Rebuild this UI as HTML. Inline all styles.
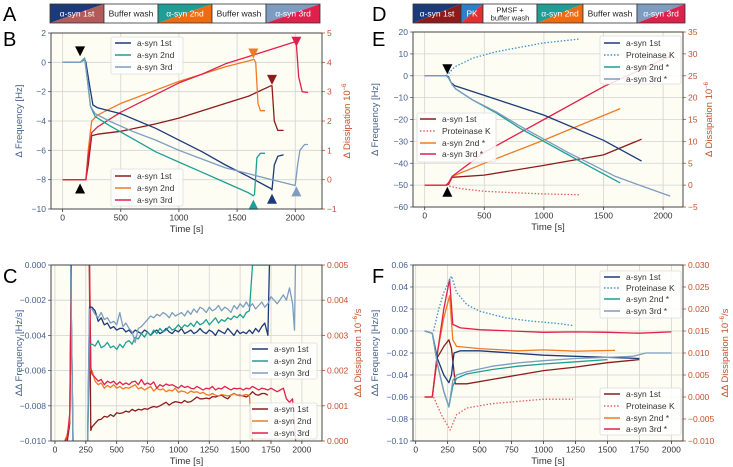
<!DOCTYPE html>
<html><head><meta charset="utf-8">
<style>
body{margin:0;background:#fff;width:733px;height:467px;overflow:hidden;font-family:"Liberation Sans",sans-serif}
svg{display:block}
</style></head>
<body>
<svg id="fig" width="733" height="467" xmlns="http://www.w3.org/2000/svg" font-family="Liberation Sans, DejaVu Sans, sans-serif"></svg>
<script>
// ---------- Panel B data ----------
const bF1t=[0,150,190,200,230,260,300,500,800,1000,1200,1400,1600,1790,1800,1820,1850,1900];
const bF1v=[0,0,0.2,0,-1.5,-2.9,-3.1,-3.5,-4.5,-5.3,-6.1,-7,-7.8,-8.6,-8.7,-7,-6.4,-6.3];
const bF2t=[0,150,190,210,240,280,400,600,800,1000,1200,1400,1600,1640,1650,1670,1700,1740];
const bF2v=[0,0,0.2,-1,-3,-3.7,-4.3,-5.2,-6.1,-6.8,-7.5,-8.2,-8.9,-9.1,-9,-6.5,-6.2,-6.2];
const bF3t=[0,150,190,210,240,280,400,600,800,1000,1200,1400,1600,1800,2000,2020,2040,2080,2110];
const bF3v=[0,0,0.3,-1,-3,-3.5,-4,-4.7,-5.3,-6,-6.6,-7.2,-7.6,-8,-8.4,-7,-6,-5.6,-5.6];
const bD1t=[0,200,220,250,300,500,800,1000,1200,1400,1600,1790,1800,1820,1850,1900];
const bD1v=[0,0,0.5,1.5,1.55,1.65,1.9,2.1,2.35,2.6,2.85,3.2,3.2,2,1.68,1.68];
const bD2t=[0,200,220,250,300,500,800,1000,1200,1400,1600,1645,1660,1680,1700,1740];
const bD2v=[0,0,1,2,2.2,2.6,3.05,3.35,3.6,3.85,4.05,4.1,4,2.6,2.35,2.35];
const bD3t=[0,200,220,250,300,500,800,1000,1200,1400,1600,1800,2000,2010,2030,2060,2110];
const bD3v=[0,0,0.8,1.6,1.8,2.3,2.9,3.3,3.6,3.95,4.2,4.45,4.7,4.6,3.5,3,2.97];
// ---------- Panel E data ----------
const eF1t=[0,180,200,220,250,500,1000,1500,1820];
const eF1v=[0,0,-0.5,-3,-4.5,-9,-18,-29.5,-39];
const ePKt=[180,200,250,400,600,800,1000,1300];
const ePKv=[0,1,4,8,11,13,15,16.8];
const eF2t=[0,180,200,230,260,400,600,800,1000,1200,1400,1640];
const eF2v=[0,0,-1,-4,-6,-11,-17,-24,-30,-36,-42,-49];
const eF3t=[0,180,200,230,260,400,600,800,1000,1200,1400,1600,1800,2060];
const eF3v=[0,0,-1,-4,-6,-11,-16.5,-23,-29,-35,-40.5,-46,-50,-55];
const eD1t=[0,180,200,230,500,1000,1500,1820];
const eD1v=[0,0,0.2,1.8,2.3,4.5,6.9,10.5];
const eDPKt=[180,200,300,500,800,1000,1300];
const eDPKv=[0,-0.2,-0.8,-1.4,-1.8,-2,-2.2];
const eD2t=[0,180,200,230,500,1000,1640];
const eD2v=[0,0,0.5,2,5,10.3,17.5];
const eD3t=[0,180,200,230,500,1000,1500,2060];
const eD3v=[0,0,0.5,2,7.5,15,22.5,29.5];
// ---------- Panel C data ----------
const cT=[300,325,350,375,400,425,450,475,500,525,550,575,600,625,650,675,700,725,750,775,800,825,850,875,900,925,950,975,1000,1025,1050,1075,1100,1125,1150,1175,1200,1225,1250,1275,1300,1325,1350,1375,1400,1425,1450,1475,1500,1525,1550,1575,1600,1625,1650,1675,1700,1725];
const cF1v=[-0.0024,-0.0026,-0.0032,-0.003,-0.0034,-0.0033,-0.0036,-0.0035,-0.0037,-0.0036,-0.0036,-0.0038,-0.0037,-0.0039,-0.0037,-0.0038,-0.0039,-0.0037,-0.0038,-0.0040,-0.0038,-0.0037,-0.0039,-0.0038,-0.0036,-0.0038,-0.0039,-0.0037,-0.0038,-0.0036,-0.0039,-0.0038,-0.0037,-0.0039,-0.0038,-0.0036,-0.0038,-0.0039,-0.0037,-0.0038,-0.0040,-0.0037,-0.0038,-0.0039,-0.0036,-0.0038,-0.0040,-0.0037,-0.0039,-0.0038,-0.0039,-0.0037,-0.0039,-0.0036,-0.0038,-0.0035,-0.0033,-0.0040];
const cF2v=[-0.0045,-0.0046,-0.0043,-0.0047,-0.0046,-0.0044,-0.0047,-0.0046,-0.0048,-0.0045,-0.0047,-0.0044,-0.0043,-0.0045,-0.0041,-0.0042,-0.0039,-0.0041,-0.0038,-0.0040,-0.0037,-0.0039,-0.0036,-0.0038,-0.0037,-0.0035,-0.0037,-0.0036,-0.0034,-0.0036,-0.0034,-0.0035,-0.0033,-0.0035,-0.0032,-0.0034,-0.0033,-0.0031,-0.0034,-0.0032,-0.0030,-0.0033,-0.0031,-0.0032,-0.0030,-0.0031,-0.0029,-0.0030,-0.0028,-0.0030,-0.0027,-0.0026,0,0,0,0,0,0];
const cF3v=[-0.0025,-0.0028,-0.003,-0.0027,-0.0031,-0.0030,-0.0033,-0.0032,-0.0034,-0.0027,-0.0035,-0.0033,-0.0036,-0.0038,-0.0044,-0.0036,-0.0035,-0.0033,-0.0031,-0.0029,-0.0030,-0.0028,-0.0029,-0.0027,-0.0028,-0.0030,-0.0027,-0.0029,-0.0028,-0.0027,-0.0029,-0.0026,-0.0028,-0.0025,-0.0027,-0.0024,-0.0025,-0.0027,-0.0024,-0.0026,-0.0025,-0.0023,-0.0026,-0.0024,-0.0025,-0.0027,-0.0023,-0.0025,-0.0022,-0.0024,-0.0021,-0.0024,-0.0022,-0.0025,-0.0023,-0.0021,-0.0024,-0.0022];
const cD1v=[0.0004,0.0005,0.0006,0.00062,0.0007,0.00068,0.00075,0.0007,0.0008,0.00078,0.0008,0.00085,0.00082,0.0009,0.00085,0.0009,0.00088,0.00092,0.0009,0.00095,0.00098,0.00096,0.001,0.00105,0.0011,0.00102,0.00108,0.00112,0.0011,0.00108,0.00115,0.0011,0.00112,0.00118,0.00125,0.0012,0.0012,0.00122,0.0012,0.00126,0.00125,0.00128,0.0013,0.00124,0.0012,0.0013,0.00135,0.0013,0.0013,0.00128,0.00125,0.0013,0.0014,0.00132,0.0013,0.00135,0.00135,0.0013];
const cD2v=[0.002,0.0017,0.0016,0.00165,0.0015,0.00158,0.00152,0.0016,0.0015,0.00155,0.00148,0.00152,0.0015,0.00155,0.0016,0.00148,0.00152,0.00145,0.0015,0.00155,0.00142,0.0015,0.00145,0.00148,0.0014,0.00145,0.00142,0.0015,0.00138,0.00142,0.0014,0.00135,0.00142,0.00138,0.0014,0.00135,0.00138,0.00132,0.0013,0.00135,0.0013,0.00128,0.00132,0.0013,0.00128,0.0013,0.00135,0.0013,0.00128,0.0013,0.00132,0.0013,0,0,0,0,0,0];
const cD3v=[0.0019,0.0018,0.0017,0.00175,0.0016,0.0017,0.00165,0.0017,0.0016,0.00168,0.0016,0.00165,0.0016,0.00168,0.0017,0.0016,0.00175,0.0016,0.00165,0.0016,0.00168,0.0015,0.0016,0.00155,0.00162,0.00158,0.0016,0.00155,0.0015,0.00158,0.00152,0.00155,0.0015,0.00148,0.00155,0.0015,0.00145,0.0015,0.00148,0.00155,0.00145,0.0015,0.00148,0.00155,0.0015,0.00145,0.0015,0.00148,0.0015,0.00145,0.0015,0.00148,0.00155,0.0015,0.00145,0.0015,0.00148,0.00145];
// ---------- Panel F data ----------
const fF1t=[70,130,170,220,260,280,300,350,500,750,1000,1250,1500,1750];
const fF1v=[0,-0.002,-0.025,-0.04,-0.047,-0.04,-0.02,-0.018,-0.018,-0.02,-0.022,-0.023,-0.024,-0.025];
const fPKt=[140,180,220,280,320,400,500,700,900,1100,1230];
const fPKv=[0,0.02,0.035,0.05,0.035,0.024,0.018,0.012,0.009,0.007,0.005];
const fF2t=[70,130,170,220,260,290,320,400,600,800,1000,1250,1500];
const fF2v=[0,-0.002,-0.03,-0.055,-0.069,-0.05,-0.043,-0.039,-0.035,-0.032,-0.03,-0.028,-0.026];
const fF3t=[70,130,170,220,260,290,320,400,600,800,1000,1250,1500,1700,1800,2000];
const fF3v=[0,-0.002,-0.03,-0.055,-0.069,-0.045,-0.04,-0.037,-0.032,-0.029,-0.027,-0.025,-0.024,-0.023,-0.02,-0.02];
const fD1t=[70,130,170,220,260,280,310,400,600,800,1000,1250,1500,1750];
const fD1v=[0,0,0.009,0.0115,0.013,0.011,0.003,0.003,0.004,0.005,0.006,0.0068,0.0078,0.0085];
const fDPKt=[140,200,270,320,400,600,800,1000,1230];
const fDPKv=[0,-0.004,-0.0075,-0.004,-0.0025,-0.0015,-0.001,-0.0005,-0.0005];
const fD2t=[70,130,170,220,265,290,320,500,800,1000,1250,1560];
const fD2v=[0,0,0.01,0.018,0.023,0.013,0.0115,0.011,0.0105,0.0107,0.0104,0.0106];
const fD3t=[70,130,170,220,265,290,350,500,750,1000,1250,1500,1750,2000];
const fD3v=[0,0,0.01,0.02,0.0268,0.0165,0.0157,0.0153,0.015,0.0147,0.0148,0.0147,0.0145,0.0148];
// tick labels
const bXT=[0,500,1000,1500,2000], bYL=[-10,-8,-6,-4,-2,0,2], bYR=[-1,0,1,2,3,4,5];
const eXT=[0,500,1000,1500,2000], eYL=[-60,-50,-40,-30,-20,-10,0,10,20], eYR=[-5,0,5,10,15,20,25,30,35];
const cXT=[0,250,500,750,1000,1250,1500,1750,2000], cYL=[-0.010,-0.008,-0.006,-0.004,-0.002,0.000], cYR=[0,0.001,0.002,0.003,0.004,0.005];
const fXT=[0,250,500,750,1000,1250,1500,1750,2000], fYL=[-0.10,-0.08,-0.06,-0.04,-0.02,0,0.02,0.04,0.06], fYR=[-0.010,-0.005,0,0.005,0.010,0.015,0.020,0.025,0.030];

const NS="http://www.w3.org/2000/svg";
const svg=document.getElementById('fig');
const C={n1:'#1c3a78',t2:'#1f9e96',g3:'#7c9cc0',r1:'#8e1b1b',o2:'#f07a22',c3:'#e0204c',pkb:'#3d8fd0',pkr:'#e26060',L:'#46608f',R:'#c4502a'};
function mk(tag,attrs,parent){const e=document.createElementNS(NS,tag);for(const k in attrs)e.setAttribute(k,attrs[k]);(parent||svg).appendChild(e);return e;}
function fmtMinus(s){return String(s).replace('-','\u2212');}

function panel(cfg){
  const g=mk('g',{});
  
  
  const {x0,x1,y0,y1}=cfg.box;
  const sx=t=>x0+(t-cfg.xd[0])/(cfg.xd[1]-cfg.xd[0])*(x1-x0);
  const syL=v=>y1-(v-cfg.yl[0])/(cfg.yl[1]-cfg.yl[0])*(y1-y0);
  const syR=v=>y1-(v-cfg.yr[0])/(cfg.yr[1]-cfg.yr[0])*(y1-y0);
  const bg=mk('rect',{x:x0,y:y0,width:x1-x0,height:y1-y0,fill:'#fdfdf4'},g);
  
  
  const clipId='clip'+cfg.name;
  const cp=mk('clipPath',{id:clipId},g);mk('rect',{x:x0,y:y0,width:x1-x0,height:y1-y0},cp);
  cfg.xt.forEach(t=>{const X=sx(t);
    mk('line',{x1:X,x2:X,y1:y0,y2:y1,stroke:'#d4d4d0','stroke-width':0.8},g);
    mk('line',{x1:X,x2:X,y1:y1,y2:y1+3,stroke:'#333','stroke-width':0.8},g);
    const tx=mk('text',{x:X,y:y1+11.5,'font-size':8.5,'text-anchor':'middle',fill:'#333'},g);tx.textContent=t;
    });
  cfg.ylt.forEach(v=>{const Y=syL(v);
    mk('line',{x1:x0,x2:x1,y1:Y,y2:Y,stroke:'#d4d4d0','stroke-width':0.8},g);
    mk('line',{x1:x0-3,x2:x0,y1:Y,y2:Y,stroke:C.L,'stroke-width':0.8},g);
    const tx=mk('text',{x:x0-5,y:Y+3,'font-size':8.5,'text-anchor':'end',fill:C.L},g);tx.textContent=fmtMinus(cfg.fl(v));
    });
  cfg.yrt.forEach(v=>{const Y=syR(v);
    mk('line',{x1:x1,x2:x1+3,y1:Y,y2:Y,stroke:C.R,'stroke-width':0.8},g);
    const tx=mk('text',{x:x1+5,y:Y+3,'font-size':8.5,'text-anchor':'start',fill:C.R},g);tx.textContent=fmtMinus(cfg.fr(v));
    });
  const lg=mk('g',{'clip-path':`url(#${clipId})`},g);
  cfg.series.forEach(s=>{
    const d=s.t.map((t,i)=>(i?'L':'M')+sx(t).toFixed(1)+','+(s.ax==='L'?syL(s.v[i]):syR(s.v[i])).toFixed(1)).join('');
    const p=mk('path',{d,fill:'none',stroke:s.c,'stroke-width':1.3,'stroke-linejoin':'round'},lg);
    if(s.dash)p.setAttribute('stroke-dasharray','1.5,1.8');
    
    
  });
  (cfg.markers||[]).forEach(m=>{const X=sx(m.t),Y=syL(m.v);const h=5;
    const pts=m.down?`${X-5},${Y-h} ${X+5},${Y-h} ${X},${Y+h}`:`${X-5},${Y+h} ${X+5},${Y+h} ${X},${Y-h}`;
    const p=mk('polygon',{points:pts,fill:m.c},g);
    
    });
  mk('rect',{x:x0,y:y0,width:x1-x0,height:y1-y0,fill:'none',stroke:'#333','stroke-width':0.9},g);
  const xl=mk('text',{x:(x0+x1)/2,y:y1+23,'font-size':9.5,'text-anchor':'middle',fill:'#333'},g);xl.textContent='Time [s]';
  
  const yl=mk('text',{x:0,y:0,'font-size':9.5,'text-anchor':'middle',fill:C.L,transform:`translate(${cfg.ylx},${(y0+y1)/2}) rotate(-90)`},g);yl.textContent=cfg.ylab;
  
  const yr=mk('text',{x:0,y:0,'font-size':9.5,'text-anchor':'middle',fill:C.R,transform:`translate(${cfg.yrx},${(y0+y1)/2}) rotate(-90)`},g);yr.innerHTML=cfg.yrab;
  
  cfg.legends.forEach(L=>{
    const lgg=mk('g',{},g);
    
    
    mk('rect',{x:L.x,y:L.y,width:L.w,height:L.h,rx:2,fill:'#fff','fill-opacity':0.85,stroke:'#ddd','stroke-width':0.8},lgg);
    L.items.forEach((it,i)=>{const Y=L.ey[i];
      const ln=mk('line',{x1:L.lx,x2:L.lx+16,y1:Y,y2:Y,stroke:it.c,'stroke-width':1.5},lgg);
      if(it.dash)ln.setAttribute('stroke-dasharray','1.5,1.8');
      const tx=mk('text',{x:L.lx+22,y:Y+3,'font-size':8.5,fill:'#333'},lgg);tx.textContent=it.l;
      });
  });
}
const f3=v=>v.toFixed(3), f2=v=>v.toFixed(2), f0=v=>String(v);

panel({name:'panel-b',box:{x0:51,x1:322,y0:33,y1:209},xd:[-100,2230],yl:[-10,2],yr:[-1,5],
 xt:bXT,ylt:bYL,yrt:bYR,fl:f0,fr:f0,ylx:22,yrx:350,ylab:'Δ Frequency [Hz]',yrab:'Δ Dissipation 10<tspan dy="-4" font-size="6">−6</tspan>',
 series:[{id:'diss-1st',t:bD1t,v:bD1v,ax:'R',c:C.r1},{id:'diss-2nd',t:bD2t,v:bD2v,ax:'R',c:C.o2},{id:'diss-3rd',t:bD3t,v:bD3v,ax:'R',c:C.c3},
  {id:'freq-1st',t:bF1t,v:bF1v,ax:'L',c:C.n1},{id:'freq-2nd',t:bF2t,v:bF2v,ax:'L',c:C.t2},{id:'freq-3rd',t:bF3t,v:bF3v,ax:'L',c:C.g3}],
 markers:[{t:150,v:0.75,down:1,c:'#000'},{t:150,v:-8.6,c:'#000'},{t:1640,v:0.6,down:1,c:C.o2},{t:1800,v:-1.2,down:1,c:C.r1},{t:2010,v:1.4,down:1,c:C.c3},
  {t:1640,v:-9.7,c:C.t2},{t:1800,v:-9.3,c:C.n1},{t:2010,v:-8.8,c:C.g3}],
 legends:[{x:111,y:37,w:72,h:37,lx:115,ey:[43,55,67],items:[{l:'a-syn 1st',c:C.n1},{l:'a-syn 2nd',c:C.t2},{l:'a-syn 3rd',c:C.g3}]},
  {x:111,y:169,w:72,h:37,lx:115,ey:[176,188,200],items:[{l:'a-syn 1st',c:C.r1},{l:'a-syn 2nd',c:C.o2},{l:'a-syn 3rd',c:C.c3}]}]});

panel({name:'panel-e',box:{x0:413,x1:683,y0:32,y1:207},xd:[-98,2167],yl:[-60,20],yr:[-5,35],
 xt:eXT,ylt:eYL,yrt:eYR,fl:f0,fr:f0,ylx:378,yrx:712,ylab:'Δ Frequency [Hz]',yrab:'Δ Dissipation 10<tspan dy="-4" font-size="6">−6</tspan>',
 series:[{id:'diss-1st',t:eD1t,v:eD1v,ax:'R',c:C.r1},{id:'diss-pk',t:eDPKt,v:eDPKv,ax:'R',c:C.pkr,dash:1},{id:'diss-2nd',t:eD2t,v:eD2v,ax:'R',c:C.o2},{id:'diss-3rd',t:eD3t,v:eD3v,ax:'R',c:C.c3},
  {id:'freq-1st',t:eF1t,v:eF1v,ax:'L',c:C.n1},{id:'freq-pk',t:ePKt,v:ePKv,ax:'L',c:C.pkb,dash:1},{id:'freq-2nd',t:eF2t,v:eF2v,ax:'L',c:C.t2},{id:'freq-3rd',t:eF3t,v:eF3v,ax:'L',c:C.g3}],
 markers:[{t:190,v:3,down:1,c:'#000'},{t:190,v:-53,c:'#000'}],
 legends:[{x:600,y:36,w:81,h:48,lx:604,ey:[43,55,67,79],items:[{l:'a-syn 1st',c:C.n1},{l:'Proteinase K',c:C.pkb,dash:1},{l:'a-syn 2nd *',c:C.t2},{l:'a-syn 3rd *',c:C.g3}]},
  {x:417,y:113,w:79,h:49,lx:420,ey:[119,131,143,154],items:[{l:'a-syn 1st',c:C.r1},{l:'Proteinase K',c:C.pkr,dash:1},{l:'a-syn 2nd *',c:C.o2},{l:'a-syn 3rd *',c:C.c3}]}]});

const cTF=[100,125,150,200,260,280].concat(cT), cTD=[80,100,120,140,270,290].concat(cT);
panel({name:'panel-c',box:{x0:51,x1:322,y0:265,y1:441},xd:[-32,2163],yl:[-0.010,0],yr:[0,0.005],
 xt:cXT,ylt:cYL,yrt:cYR,fl:f3,fr:f3,ylx:22,yrx:361,ylab:'ΔΔ Frequency [Hz/s]',yrab:'ΔΔ Dissipation 10<tspan dy="-4" font-size="6">−6</tspan><tspan dy="4">/s</tspan>',
 series:[{id:'diss-1st',t:cTD,v:[0,0,0.0005,0.008,0.008,0.0003].concat(cD1v),ax:'R',c:C.r1},
  {id:'diss-2nd',t:cTD.concat([1750]),v:[0,0.0002,0.0006,0.008,0.008,0.002].concat(cD2v).concat([0]),ax:'R',c:C.o2},
  {id:'diss-3rd',t:cTD.concat([1750,1800,1850,1875,1900,1925,1950]),v:[0,0.0001,0.0008,0.008,0.008,0.0021].concat(cD3v).concat([0.0015,0.0014,0.0015,0.0012,0.0011,0.0012,0]),ax:'R',c:C.c3},
  {id:'freq-1st',t:cTF.concat([1740]),v:[0.001,0.001,-0.012,-0.012,-0.012,-0.0024].concat(cF1v).concat([0.001]),ax:'L',c:C.n1},
  {id:'freq-2nd',t:cTF,v:[0.001,0.001,-0.012,-0.012,-0.012,-0.0045].concat(cF2v),ax:'L',c:C.t2},
  {id:'freq-3rd',t:cTF.concat([1750,1800,1850,1875,1900,1925,1940,1950]),v:[0.001,0.001,-0.012,-0.012,-0.012,-0.0025].concat(cF3v).concat([-0.0018,-0.0022,-0.0017,-0.002,-0.0013,-0.0022,-0.0037,0.001]),ax:'L',c:C.g3}],
 legends:[{x:250,y:343,w:67,h:36,lx:252,ey:[349,361,373],items:[{l:'a-syn 1st',c:C.n1},{l:'a-syn 2nd',c:C.t2},{l:'a-syn 3rd',c:C.g3}]},
  {x:250,y:403,w:67,h:36,lx:252,ey:[409,421,433],items:[{l:'a-syn 1st',c:C.r1},{l:'a-syn 2nd',c:C.o2},{l:'a-syn 3rd',c:C.c3}]}]});

panel({name:'panel-f',box:{x0:413,x1:683,y0:265,y1:441},xd:[-21,2091],yl:[-0.10,0.06],yr:[-0.010,0.030],
 xt:fXT,ylt:fYL,yrt:fYR,fl:f2,fr:f3,ylx:378,yrx:728,ylab:'ΔΔ Frequency [Hz/s]',yrab:'ΔΔ Dissipation 10<tspan dy="-4" font-size="6">−6</tspan><tspan dy="4">/s</tspan>',
 series:[{id:'diss-1st',t:fD1t,v:fD1v,ax:'R',c:C.r1},{id:'diss-pk',t:fDPKt,v:fDPKv,ax:'R',c:C.pkr,dash:1},{id:'diss-2nd',t:fD2t,v:fD2v,ax:'R',c:C.o2},{id:'diss-3rd',t:fD3t,v:fD3v,ax:'R',c:C.c3},
  {id:'freq-1st',t:fF1t,v:fF1v,ax:'L',c:C.n1},{id:'freq-pk',t:fPKt,v:fPKv,ax:'L',c:C.pkb,dash:1},{id:'freq-2nd',t:fF2t,v:fF2v,ax:'L',c:C.t2},{id:'freq-3rd',t:fF3t,v:fF3v,ax:'L',c:C.g3}],
 legends:[{x:600,y:271,w:81,h:47,lx:604,ey:[277,288,299,311],items:[{l:'a-syn 1st',c:C.n1},{l:'Proteinase K',c:C.pkb,dash:1},{l:'a-syn 2nd *',c:C.t2},{l:'a-syn 3rd *',c:C.g3}]},
  {x:600,y:388,w:81,h:47,lx:604,ey:[394,406,418,429],items:[{l:'a-syn 1st',c:C.r1},{l:'Proteinase K',c:C.pkr,dash:1},{l:'a-syn 2nd *',c:C.o2},{l:'a-syn 3rd *',c:C.c3}]}]});

// step bars
function bar(name,y0,y1,segs){
  const g=mk('g',{});
  
  
  segs.forEach(s=>{
    if(s.a){mk('polygon',{points:`${s.x0},${y0} ${s.x1},${y0} ${s.x0},${y1}`,fill:s.a},g);
      mk('polygon',{points:`${s.x1},${y0} ${s.x1},${y1} ${s.x0},${y1}`,fill:s.b},g);}
    else mk('rect',{x:s.x0,y:y0,width:s.x1-s.x0,height:y1-y0,fill:'#fff'},g);
    mk('rect',{x:s.x0,y:y0,width:s.x1-s.x0,height:y1-y0,fill:'none',stroke:'#333','stroke-width':0.8},g);
    const lines=s.l.split('|');
    lines.forEach((ln,i)=>{const t=mk('text',{x:(s.x0+s.x1)/2,y:(y0+y1)/2+3+(i-(lines.length-1)/2)*8,'font-size':lines.length>1?7.5:8.5,'text-anchor':'middle',fill:s.a?'#fff':'#222'},g);t.textContent=ln;
      });
  });
}
bar('protocol-bar-a',4,23,[{x0:50,x1:104,a:'#1c3a78',b:'#b55a5a',l:'α-syn 1st'},{x0:104,x1:158,l:'Buffer wash'},{x0:158,x1:212,a:'#1f9e96',b:'#f06a10',l:'α-syn 2nd'},{x0:212,x1:266,l:'Buffer wash'},{x0:266,x1:320,a:'#7c9cc0',b:'#e0204c',l:'α-syn 3rd'}]);
bar('protocol-bar-d',4,23,[{x0:413,x1:461,a:'#1c3a78',b:'#8e1b1b',l:'α-syn 1st'},{x0:461,x1:483,a:'#2f7fc8',b:'#e03030',l:'PK'},{x0:483,x1:537,l:'PMSF +|buffer wash'},{x0:537,x1:583,a:'#1f9e96',b:'#f06a10',l:'α-syn 2nd'},{x0:583,x1:637,l:'Buffer wash'},{x0:637,x1:685,a:'#7c9cc0',b:'#e0204c',l:'α-syn 3rd'}]);

[['A',3,21],['B',3,46],['C',3,283],['D',372,21],['E',372,46],['F',372,283]].forEach(p=>{
  const t=mk('text',{x:p[1],y:p[2],'font-size':20,fill:'#000'});t.textContent=p[0];
  
  });
</script>
</body></html>
